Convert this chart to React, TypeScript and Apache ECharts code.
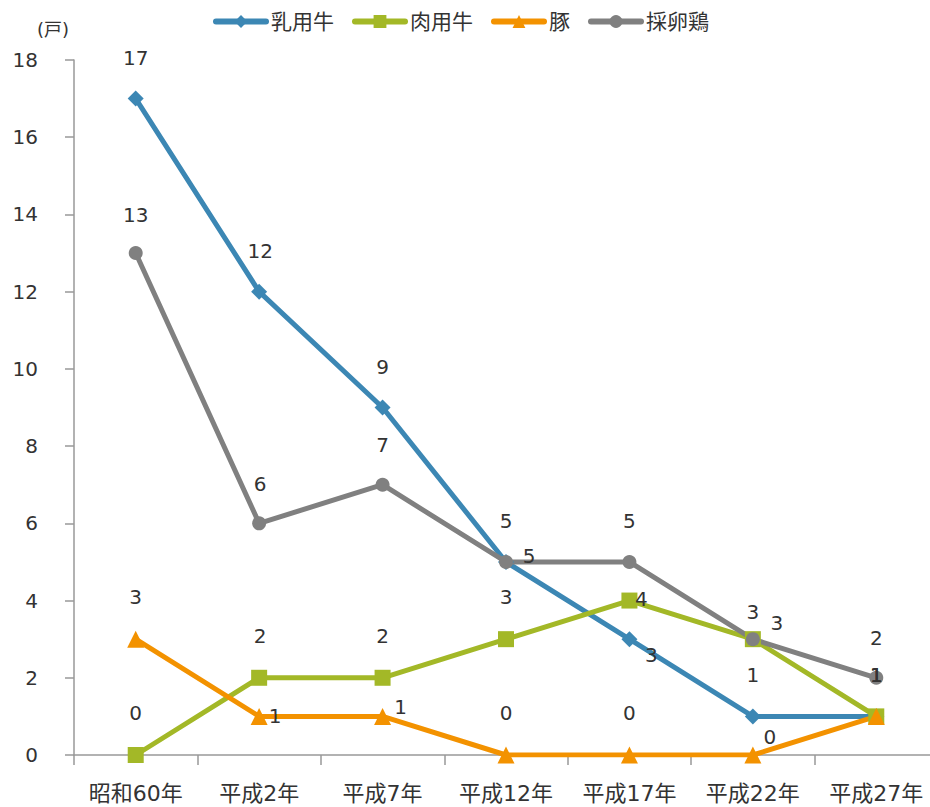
import React, { useEffect, useRef } from "react";
import * as echarts from "echarts";

const categories = ["昭和60年", "平成2年", "平成7年", "平成12年", "平成17年", "平成22年", "平成27年"];
const dairy = [17, 12, 9, 5, 3, 1, 1];
const beef = [0, 2, 2, 3, 4, 3, 1];
const pig = [3, 1, 1, 0, 0, 0, 1];
const layer = [13, 6, 7, 5, 5, 3, 2];
const yTicks = { min: 0, max: 18, interval: 2 };

// label offsets (styling), per point
const dairyOff = [[0, -41], [1, -41], [0, -41], [23, -6], [22, 16], [0, -41], [0, -41]];
const beefOff = [[0, -42], [1, -42], [0, -42], [0, -42], [12, -2], [24, -16], [0, -41]];
const pigOff = [[0, -42], [16, 0], [18, -9], [0, -42], [0, -42], [17, -18], [0, -41]];
const layerOff = [[0, -38], [1, -39], [0, -40], [0, -41], [0, -41], [0, -27], [0, -40]];

const FONT = "'DejaVu Sans', 'Noto Sans CJK JP', sans-serif";

function mkData(vals: number[], offs: number[][]) {
  return vals.map((v, i) => ({
    value: v,
    label: { offset: offs[i] },
  }));
}

function mkSeries(name: string, vals: number[], offs: number[][], color: string, symbol: string, size: number) {
  return {
    name,
    type: "line",
    data: mkData(vals, offs),
    symbol,
    symbolSize: size,
    showAllSymbol: true,
    lineStyle: { color, width: 5 },
    itemStyle: { color },
    label: {
      show: true,
      position: "inside",
      align: "center",
      verticalAlign: "middle",
      color: "#333",
      fontSize: 20,
      fontFamily: FONT,
    },
  };
}

export default function App() {
  const ref = useRef<HTMLDivElement>(null);
  useEffect(() => {
    const chart = echarts.init(ref.current!, null, { renderer: "svg" });
    chart.setOption({
      animation: false,
      backgroundColor: "#fff",
      textStyle: { fontFamily: FONT },
      legend: {
        top: 6,
        left: 208,
        itemWidth: 50,
        itemHeight: 16,
        itemGap: 18,
        lineStyle: { width: 6, cap: "round" },
        textStyle: { fontSize: 21, color: "#333", fontFamily: FONT },
        data: ["乳用牛", "肉用牛", "豚", "採卵鶏"],
      },
      grid: { left: 74, width: 864, top: 60, bottom: 52, containLabel: false },
      graphic: [
        { type: "text", left: 37, top: 20, style: { text: "(戸)", fontSize: 18, fill: "#333", fontFamily: FONT } },
      ],
      xAxis: {
        type: "category",
        data: categories,
        boundaryGap: true,
        axisLine: { lineStyle: { color: "#999", width: 1.5 } },
        axisTick: { show: true, length: 10, lineStyle: { color: "#999", width: 1.5 } },
        axisLabel: { fontSize: 22, color: "#333", margin: 27, fontFamily: FONT, interval: 0 },
      },
      yAxis: {
        type: "value",
        min: yTicks.min,
        max: yTicks.max,
        interval: yTicks.interval,
        axisLine: { show: true, lineStyle: { color: "#999", width: 1.5 } },
        axisTick: { show: true, length: 9, lineStyle: { color: "#999", width: 1.5 } },
        splitLine: { show: false },
        axisLabel: { fontSize: 20, color: "#333", margin: 36, fontFamily: FONT },
      },
      series: [
        mkSeries("乳用牛", dairy, dairyOff, "#3C87B4", "diamond", 16),
        mkSeries("肉用牛", beef, beefOff, "#A3B827", "rect", 16),
        mkSeries("豚", pig, pigOff, "#F39200", "triangle", 17),
        mkSeries("採卵鶏", layer, layerOff, "#808080", "circle", 14),
      ],
    });
    return () => chart.dispose();
  }, []);
  return (
    <div style={{ position: "absolute", left: 0, top: 0, width: 930, height: 807, overflow: "hidden" }}>
      <div ref={ref} style={{ width: 945, height: 807 }} />
    </div>
  );
}
